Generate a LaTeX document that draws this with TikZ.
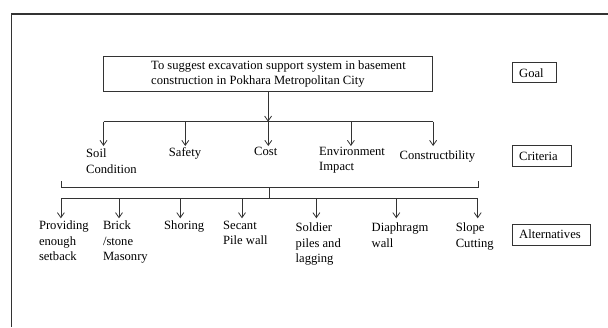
\documentclass[tikz,border=0pt]{standalone}
\usepackage{fontspec}
\setmainfont{Liberation Serif}
\usetikzlibrary{arrows.meta}
\begin{document}
\begin{tikzpicture}[x=1pt,y=-1pt,
  ln/.style={line width=0.8pt, draw=black!80},
  arr/.style={ln, -{Straight Barb[length=5pt,width=7pt]}},
  lbl/.style={font=\fontsize{12.6}{15.4}\selectfont, inner sep=0pt, align=left, anchor=north west},
  side/.style={draw=black!80, line width=0.8pt, font=\fontsize{12.6}{15.4}\selectfont, inner xsep=7pt, inner ysep=0pt, anchor=west, align=left}]
\useasboundingbox (0,0) rectangle (608,327);
\draw[line width=1.4pt, black!80] (608,14) -- (11.6,14) -- (11.6,327);
% goal
\node[draw=black!80, line width=0.8pt, minimum width=329.2pt, minimum height=34.3pt, inner sep=0pt] (goal) at (268.1,73.85) {};
\node[lbl, anchor=west] (goaltxt) at (151,73.85) {To suggest excavation support system in basement\\construction in Pokhara Metropolitan City};
% criteria level
\coordinate (cj) at (268.1,121.7);
\coordinate (cL) at (103.5,121.7);
\coordinate (cR) at (433.1,121.7);
\draw[arr] (goal.south) -- (cj);
\draw[ln] (cL) -- (cR);
\foreach \n/\x in {1/103.5,2/185.3,3/268.3,4/350.9,5/433.1}{
  \coordinate (ct\n) at (\x,121.7);
  \coordinate (cb\n) at (\x,146);
  \draw[arr] (ct\n) -- (cb\n);
}
\node[lbl] (soil) at (86,148.7) {Soil\\Condition};
\node[lbl] (safety) at (168.7,147.3) {Safety};
\node[lbl] (cost) at (254,146.7) {Cost};
\node[lbl] (env) at (319,146.7) {Environment\\Impact};
\node[lbl] (cons) at (399.4,151) {Constructbility};
% bracket
\coordinate (bl) at (60.9,181);
\coordinate (blb) at (60.9,187.3);
\coordinate (brb) at (478.5,187.3);
\coordinate (br) at (478.5,181);
\draw[ln] (bl) -- (blb) -- (brb) -- (br);
\coordinate (bs) at (269.5,187.3);
\coordinate (aj) at (269.5,198.3);
\draw[ln] (bs) -- (aj);
\coordinate (aL) at (60.9,198.3);
\coordinate (aR) at (477.7,198.3);
\draw[ln] (aL) -- (aR);
\foreach \n/\x in {1/60.9,2/119,3/180.3,4/242,5/316.4,6/396.3,7/477.7}{
  \coordinate (at\n) at (\x,198.3);
  \coordinate (ab\n) at (\x,218.3);
  \draw[arr] (at\n) -- (ab\n);
}
\node[lbl] (prov) at (38.8,220.7) {Providing\\enough\\setback};
\node[lbl] (brick) at (102.8,220.7) {Brick\\/stone\\Masonry};
\node[lbl] (shoring) at (164,220.7) {Shoring};
\node[lbl] (secant) at (223,221) {Secant\\Pile wall};
\node[lbl] (soldier) at (295.5,222.7) {Soldier\\piles and\\lagging};
\node[lbl] (diaph) at (371.5,222.7) {Diaphragm\\wall};
\node[lbl] (slope) at (455.6,223) {Slope\\Cutting};
% side labels
\node[side, text width=30.6pt, minimum height=20pt] (sgoal) at (511.8,72.7) {Goal};
\node[side, text width=45pt, minimum height=21pt] (scrit) at (511.8,156.2) {Criteria};
\node[side, text width=64.4pt, minimum height=21pt] (salt) at (511.8,234.5) {Alternatives};
\end{tikzpicture}
\end{document}
